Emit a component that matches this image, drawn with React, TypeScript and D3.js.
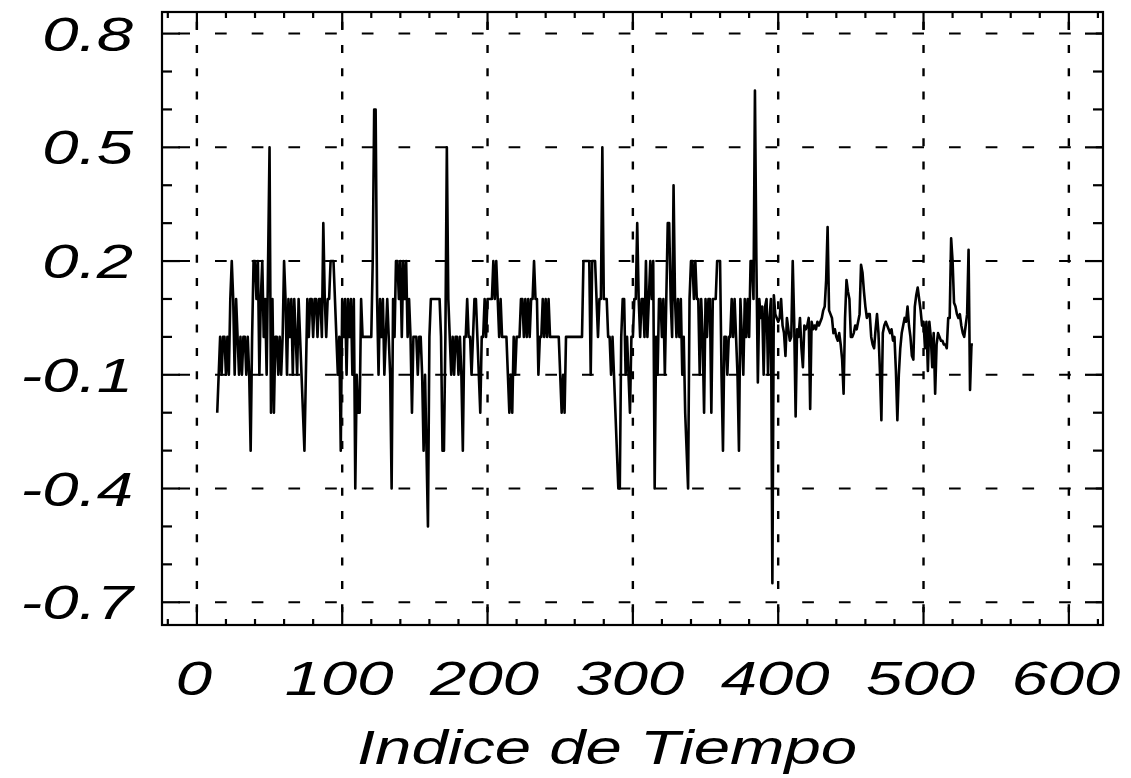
import React from "react";
import * as d3 from "d3";

// ---- data ----
const firstIndex = 14;
// quantized part of the series, indices 14..396
const quantizedValues: number[] = [
  -0.2, -0.1, 0, -0.1, 0, 0, -0.1, 0, -0.1, 0.1,
  0.2, 0.1, -0.1, 0.1, 0, -0.1, 0, -0.1, 0, 0,
  -0.1, 0, -0.1, -0.3, 0, 0.2, 0.2, 0.1, 0.2, -0.1,
  0.1, 0.2, 0, 0.1, -0.1, 0.2, 0.5, -0.2, 0.1, -0.2,
  0, 0, -0.1, 0, -0.1, 0, 0.2, 0.1, -0.1, 0.1,
  0, 0.1, -0.1, 0.1, 0, -0.1, 0.1, 0, -0.1, -0.2,
  -0.3, -0.1, 0.1, 0, 0.1, 0.1, 0, 0.1, 0.1, 0,
  0.1, 0.1, 0, 0.3, 0.1, 0, 0.1, 0.1, 0.2, 0.2,
  0.2, 0.1, 0, -0.1, 0, -0.3, 0.1, 0, 0.1, -0.1,
  0.1, 0, 0.1, -0.1, 0.1, -0.4, -0.1, -0.2, -0.2, 0.1,
  0, 0, 0, 0, 0, 0, 0, 0.2, 0.6, 0.6,
  0.1, -0.1, 0.1, 0, 0.1, -0.1, 0, 0.1, 0, -0.1,
  -0.4, 0.1, 0, 0.2, 0.2, 0.1, 0.2, 0, 0.2, 0.1,
  0.2, 0, 0.1, 0, -0.2, 0, 0, 0, -0.1, 0,
  0, -0.1, -0.3, -0.1, -0.3, -0.5, 0, 0.1, 0.1, 0.1,
  0.1, 0.1, 0.1, 0.1, 0, -0.3, -0.3, 0, 0.5, 0.1,
  0, -0.1, 0, -0.1, 0, 0, -0.1, 0, -0.1, -0.3,
  0, 0, 0.1, 0, 0, -0.1, 0, 0.1, 0.1, 0,
  -0.1, -0.2, 0, 0, 0.1, 0, 0.1, 0.1, 0.1, 0.1,
  0.2, 0.1, 0.2, 0.1, 0, 0.1, 0, 0, 0, 0,
  -0.1, -0.2, -0.1, -0.2, 0, -0.1, 0, 0, 0, 0.1,
  0.1, 0, 0.1, 0, 0.1, 0, 0.1, 0.1, 0.2, 0.1,
  0.1, -0.1, 0, 0, 0.1, 0, 0.1, 0, 0.1, 0,
  0, 0, 0, 0, 0, 0, -0.1, -0.2, -0.1, -0.2,
  0, 0, 0, 0, 0, 0, 0, 0, 0, 0,
  0, 0, 0.2, 0.2, 0.2, 0.2, 0.2, -0.1, 0.2, 0.2,
  0.2, 0.1, 0, 0.1, 0.1, 0.5, 0.1, 0.1, 0.1, 0,
  0, -0.1, 0, -0.1, -0.2, -0.3, -0.4, -0.4, 0, 0.1,
  0.1, -0.1, 0, -0.1, -0.2, 0, 0, 0.1, 0.1, 0.3,
  0.1, 0, 0.1, 0.1, 0, 0.2, 0, 0.1, 0.2, 0.1,
  0.2, -0.4, 0, -0.1, 0.1, 0.1, 0, 0.1, -0.1, 0.1,
  0.3, 0.3, 0.1, 0, 0.4, 0.1, 0, 0.1, 0, 0.1,
  -0.1, 0, -0.2, -0.3, -0.4, 0.1, 0.2, 0.2, 0.1, 0.2,
  0.1, 0.1, -0.1, 0.1, 0, -0.2, 0.1, 0, 0.1, 0.1,
  -0.2, 0.1, 0.1, 0.1, 0.2, 0.2, 0.2, -0.1, -0.3, 0,
  0, -0.1, 0, 0, 0.1, 0, 0.1, 0, -0.1, -0.3,
  0.1, 0, -0.1, 0.1, 0, 0.1, 0, 0.2, 0.2, 0.1,
  0.65, 0.2, -0.12, 0.1, 0.05, 0.08, -0.1, 0.08, 0.1, -0.1, 0.05, 0.1, -0.65,
];
// continuous part of the series, indices 397..534
const continuousValues: number[] = [
  0.11, 0.06, 0.05, 0.04, 0.05, 0.1, 0.03, 0.01, -0.05, 0.05,
  0.02, -0.01, 0.0, 0.2, 0.04, -0.21, 0.02, 0.0, 0.05, -0.03,
  -0.08, 0.03, 0.02, 0.03, 0.05, -0.19, 0.04, 0.02, 0.03, 0.02,
  0.04, 0.03, 0.04, 0.05, 0.07, 0.08, 0.15, 0.29, 0.07, 0.06,
  0.05, 0.01, 0.02, 0.0, -0.01, 0.01, -0.02, -0.06, -0.15, 0.05,
  0.15, 0.12, 0.1, 0.0, 0.0, 0.01, 0.03, 0.02, 0.04, 0.06,
  0.19, 0.17, 0.12, 0.08, 0.05, 0.06, 0.06, 0.0, -0.02, -0.03,
  0.02, 0.06, 0.01, -0.09, -0.22, 0.01, 0.03, 0.04, 0.03, 0.02,
  0.01, 0.02, -0.01, 0.0, -0.09, -0.22, -0.1, -0.03, 0.01, 0.03,
  0.05, 0.04, 0.08, 0.03, 0.0, -0.05, -0.06, 0.08, 0.11, 0.13,
  0.1, 0.07, 0.03, 0.04, -0.03, 0.04, -0.09, 0.04, 0.0, -0.08,
  0.01, -0.15, -0.02, 0.01, 0.0, -0.01, -0.01, -0.02, -0.02, -0.03,
  0.05, 0.05, 0.26, 0.2, 0.09, 0.08, 0.06, 0.05, 0.06, 0.03,
  0.01, 0.0, 0.03, 0.06, 0.23, -0.14, -0.02, -0.02,
];

const xMajorTicks = [0, 100, 200, 300, 400, 500, 600];
const xMinorStep = 20;
const yMajorTicks = [0.8, 0.5, 0.2, -0.1, -0.4, -0.7];
const yMinorStep = 0.1;
const xAxisTitle = "Indice de Tiempo";

// ---- layout ----
const W = 1131;
const H = 778;
const L = 162;
const R = 1103;
const T = 12;
const B = 625;
const FONT = "'Liberation Sans', Arial, Helvetica, sans-serif";
const SX = 1.36;

export default function App() {
  const x = d3.scaleLinear().domain([-24, 623.5]).range([L, R]);
  const y = d3.scaleLinear().domain([-0.76, 0.857]).range([B, T]);

  const series = [...quantizedValues, ...continuousValues].map((v, i) => ({
    i: firstIndex + i,
    v,
  }));
  const line = d3
    .line<{ i: number; v: number }>()
    .x((d) => x(d.i))
    .y((d) => y(d.v));

  const xMinor = d3.range(-20, 621, xMinorStep).filter((t) => !xMajorTicks.includes(t));
  const yMinor = d3
    .range(-7, 9)
    .map((k) => +(k * yMinorStep).toFixed(1))
    .filter((t) => !yMajorTicks.some((m) => Math.abs(m - t) < 1e-9));

  const major = 18;
  const minorX = 6;
  const minorY = 10;

  return (
    <svg
      width={W}
      height={H}
      style={{ position: "absolute", left: 0, top: 0, background: "#fff" }}
    >
      <rect x={0} y={0} width={W} height={H} fill="#fff" />
      {/* grid */}
      {yMajorTicks.map((t) => (
        <line
          key={"hg" + t}
          x1={L}
          x2={R}
          y1={y(t)}
          y2={y(t)}
          stroke="#000"
          strokeWidth={2}
          strokeDasharray="11.7 25"
          strokeDashoffset={20.4}
        />
      ))}
      {xMajorTicks.map((t) => (
        <line
          key={"vg" + t}
          x1={x(t)}
          x2={x(t)}
          y1={T}
          y2={B}
          stroke="#000"
          strokeWidth={2.4}
          strokeDasharray="8 15.3"
          strokeDashoffset={13.6}
        />
      ))}
      {/* data */}
      <path
        d={line(series) || ""}
        fill="none"
        stroke="#000"
        strokeWidth={2.6}
        strokeLinejoin="round"
      />
      {/* frame */}
      <rect x={L} y={T} width={R - L} height={B - T} fill="none" stroke="#000" strokeWidth={2.2} />
      {/* ticks */}
      {xMajorTicks.map((t) => (
        <g key={"xt" + t}>
          <line x1={x(t)} x2={x(t)} y1={B} y2={B - major} stroke="#000" strokeWidth={2.2} />
          <line x1={x(t)} x2={x(t)} y1={T} y2={T + major} stroke="#000" strokeWidth={2.2} />
        </g>
      ))}
      {xMinor.map((t) => (
        <g key={"xm" + t}>
          <line x1={x(t)} x2={x(t)} y1={B} y2={B - minorX} stroke="#000" strokeWidth={2.2} />
          <line x1={x(t)} x2={x(t)} y1={T} y2={T + minorX} stroke="#000" strokeWidth={2.2} />
        </g>
      ))}
      {yMajorTicks.map((t) => (
        <g key={"yt" + t}>
          <line x1={L} x2={L + major} y1={y(t)} y2={y(t)} stroke="#000" strokeWidth={2.2} />
          <line x1={R} x2={R - major} y1={y(t)} y2={y(t)} stroke="#000" strokeWidth={2.2} />
        </g>
      ))}
      {yMinor.map((t) => (
        <g key={"ym" + t}>
          <line x1={L} x2={L + minorY} y1={y(t)} y2={y(t)} stroke="#000" strokeWidth={2.2} />
          <line x1={R} x2={R - minorY} y1={y(t)} y2={y(t)} stroke="#000" strokeWidth={2.2} />
        </g>
      ))}
      {/* tick labels */}
      {yMajorTicks.map((t) => (
        <text
          key={"yl" + t}
          transform={`translate(133,${y(t) + 17}) scale(${SX},1)`}
          textAnchor="end"
          fontFamily={FONT}
          fontStyle="italic"
          fontSize={48}
          fill="#000"
        >
          {t.toFixed(1)}
        </text>
      ))}
      {xMajorTicks.map((t) => (
        <text
          key={"xl" + t}
          transform={`translate(${x(t) - 3},695) scale(${SX},1)`}
          textAnchor="middle"
          fontFamily={FONT}
          fontStyle="italic"
          fontSize={48}
          fill="#000"
        >
          {String(t)}
        </text>
      ))}
      <text
        transform={`translate(607,764) scale(${SX},1)`}
        textAnchor="middle"
        fontFamily={FONT}
        fontStyle="italic"
        fontSize={48}
        fill="#000"
      >
        {xAxisTitle}
      </text>
    </svg>
  );
}
